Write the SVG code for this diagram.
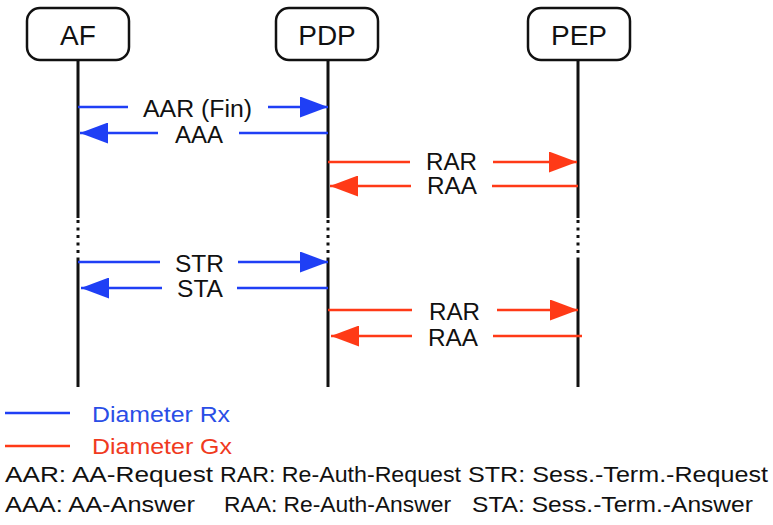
<svg xmlns="http://www.w3.org/2000/svg" width="773" height="525" viewBox="0 0 773 525">
  <style>
    text { font-family: "Liberation Sans", Arial, Helvetica, sans-serif; fill: #111; }
    .box { fill: #fff; stroke: #111; stroke-width: 2.5; }
    .label { font-size: 28px; }
    .msg { font-size: 23px; }
    .life { stroke: #111; stroke-width: 3; fill: none; }
    .dots { stroke: #111; stroke-width: 3; stroke-dasharray: 3 4.5; fill: none; }
    .rx { stroke: #1f3ff5; stroke-width: 2.5; fill: none; }
    .gx { stroke: #ff3a17; stroke-width: 2.5; fill: none; }
    .legend { font-size: 22px; }
  </style>
  <defs>
    <marker id="head-rx" markerUnits="userSpaceOnUse" markerWidth="28" markerHeight="21" refX="28" refY="10.5" orient="auto">
      <path d="M0,0 L28,10.5 L0,21 z" fill="#1f3ff5"/>
    </marker>
    <marker id="head-gx" markerUnits="userSpaceOnUse" markerWidth="28" markerHeight="21" refX="28" refY="10.5" orient="auto">
      <path d="M0,0 L28,10.5 L0,21 z" fill="#ff3a17"/>
    </marker>
  </defs>

  <rect width="773" height="525" fill="#fff"/>

  <!-- lifelines -->
  <g id="lifelines">
    <path class="life" d="M78,60 V218 M78,258 V387"/>
    <path class="dots" d="M78,220 V258"/>
    <path class="life" d="M328,60 V218 M328,258 V387"/>
    <path class="dots" d="M328,220 V258"/>
    <path class="life" d="M578,60 V218 M578,258 V387"/>
    <path class="dots" d="M578,220 V258"/>
  </g>

  <!-- participants -->
  <g id="af">
    <rect class="box" x="27" y="8" width="102" height="52" rx="13"/>
    <text class="label" x="78" y="45" text-anchor="middle">AF</text>
  </g>
  <g id="pdp">
    <rect class="box" x="276" y="8" width="102" height="52" rx="13"/>
    <text class="label" x="327" y="45" text-anchor="middle">PDP</text>
  </g>
  <g id="pep">
    <rect class="box" x="528" y="8" width="102" height="52" rx="13"/>
    <text class="label" x="579" y="45" text-anchor="middle">PEP</text>
  </g>

  <!-- messages -->
  <g id="connectors">
    <!-- AAR (Fin) -->
    <line class="rx" x1="78" y1="107" x2="128" y2="107"/>
    <line class="rx" x1="268" y1="107" x2="328" y2="107" marker-end="url(#head-rx)"/>
    <!-- AAA -->
    <line class="rx" x1="328" y1="133" x2="239" y2="133"/>
    <line class="rx" x1="158" y1="133" x2="80" y2="133" marker-end="url(#head-rx)"/>
    <!-- RAR -->
    <line class="gx" x1="328" y1="162" x2="410" y2="162"/>
    <line class="gx" x1="493" y1="162" x2="577" y2="162" marker-end="url(#head-gx)"/>
    <!-- RAA -->
    <line class="gx" x1="578" y1="186" x2="492" y2="186"/>
    <line class="gx" x1="411" y1="186" x2="330" y2="186" marker-end="url(#head-gx)"/>
    <!-- STR -->
    <line class="rx" x1="78" y1="262" x2="160" y2="262"/>
    <line class="rx" x1="238" y1="262" x2="328" y2="262" marker-end="url(#head-rx)"/>
    <!-- STA -->
    <line class="rx" x1="328" y1="288" x2="237" y2="288"/>
    <line class="rx" x1="162" y1="288" x2="81" y2="288" marker-end="url(#head-rx)"/>
    <!-- RAR -->
    <line class="gx" x1="328" y1="310" x2="412" y2="310"/>
    <line class="gx" x1="497" y1="310" x2="578" y2="310" marker-end="url(#head-gx)"/>
    <!-- RAA -->
    <line class="gx" x1="582" y1="336" x2="493" y2="336"/>
    <line class="gx" x1="412" y1="336" x2="331" y2="336" marker-end="url(#head-gx)"/>
  </g>

  <g id="message-labels">
    <text class="msg" x="143" y="117" textLength="109" lengthAdjust="spacingAndGlyphs">AAR (Fin)</text>
    <text class="msg" x="175" y="143" textLength="48" lengthAdjust="spacingAndGlyphs">AAA</text>
    <text class="msg" x="426" y="170" textLength="51" lengthAdjust="spacingAndGlyphs">RAR</text>
    <text class="msg" x="427" y="194" textLength="50" lengthAdjust="spacingAndGlyphs">RAA</text>
    <text class="msg" x="175" y="272" textLength="49" lengthAdjust="spacingAndGlyphs">STR</text>
    <text class="msg" x="177" y="297" textLength="46" lengthAdjust="spacingAndGlyphs">STA</text>
    <text class="msg" x="429" y="320" textLength="51" lengthAdjust="spacingAndGlyphs">RAR</text>
    <text class="msg" x="428" y="346" textLength="50" lengthAdjust="spacingAndGlyphs">RAA</text>
  </g>

  <!-- legend -->
  <g id="legend">
    <line class="rx" x1="5" y1="413" x2="70" y2="413"/>
    <text class="legend" x="92" y="422" textLength="138" lengthAdjust="spacingAndGlyphs" style="fill:#2a4ee6">Diameter Rx</text>
    <line class="gx" x1="5" y1="446" x2="70" y2="446"/>
    <text class="legend" x="92" y="454" textLength="140" lengthAdjust="spacingAndGlyphs" style="fill:#f03a1e">Diameter Gx</text>

    <text class="legend" x="5" y="482" textLength="208" lengthAdjust="spacingAndGlyphs">AAR: AA-Request</text>
    <text class="legend" x="220" y="482" textLength="241" lengthAdjust="spacingAndGlyphs">RAR: Re-Auth-Request</text>
    <text class="legend" x="468" y="482" textLength="300" lengthAdjust="spacingAndGlyphs">STR: Sess.-Term.-Request</text>

    <text class="legend" x="5" y="512" textLength="190" lengthAdjust="spacingAndGlyphs">AAA: AA-Answer</text>
    <text class="legend" x="224" y="512" textLength="227" lengthAdjust="spacingAndGlyphs">RAA: Re-Auth-Answer</text>
    <text class="legend" x="472" y="512" textLength="281" lengthAdjust="spacingAndGlyphs">STA: Sess.-Term.-Answer</text>
  </g>
</svg>
